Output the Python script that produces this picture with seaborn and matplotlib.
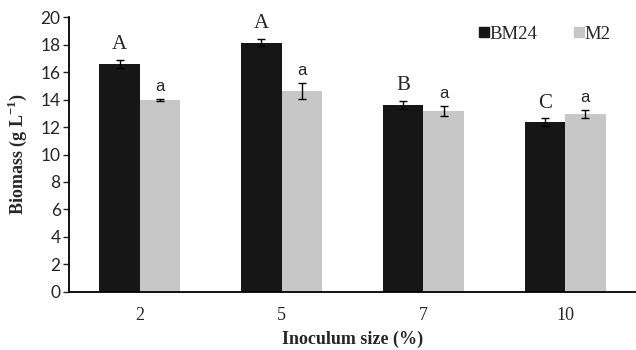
import seaborn as sns
import matplotlib.pyplot as plt
import pandas as pd
from matplotlib.lines import Line2D

# Biomass per inoculum size for the two strains
sizes = ["2", "5", "7", "10"]
strains = ["BM24", "M2"]
bm24 = [16.6, 18.15, 13.6, 12.35]
m2 = [13.95, 14.6, 13.15, 12.95]
bm24_err = [0.3, 0.27, 0.3, 0.3]
m2_err = [0.08, 0.58, 0.37, 0.28]
bm24_letters = ["A", "A", "B", "C"]
m2_letters = ["a", "a", "a", "a"]

df = pd.DataFrame({
    "size": sizes * 2,
    "strain": ["BM24"] * 4 + ["M2"] * 4,
    "biomass": bm24 + m2,
})

black = "#161616"
grey = "#c6c7c6"
serif = ["Liberation Serif", "DejaVu Serif"]

sns.set_style("white")
fig = plt.figure(figsize=(6.36, 3.5), dpi=100)
ax = fig.add_axes([0.1085, 0.166, 0.8915, 0.785])

sns.barplot(data=df, x="size", y="biomass", hue="strain", order=sizes,
            hue_order=strains, palette=[black, grey], width=0.57,
            saturation=1, errorbar=None, legend=False, linewidth=0, ax=ax)

# error bars and significance letters on top of each bar
for bars, vals, errs, letters, fam, fs in [
    (ax.containers[0], bm24, bm24_err, bm24_letters, serif, 15),
    (ax.containers[1], m2, m2_err, m2_letters, ["Liberation Sans"], 12),
]:
    xs = [b.get_x() + b.get_width() / 2 for b in bars]
    ax.errorbar(xs, vals, yerr=errs, fmt="none", ecolor="black",
                elinewidth=1, capsize=3, capthick=1)
    for x, v, e, t in zip(xs, vals, errs, letters):
        ax.annotate(t, (x, v + e), xytext=(0, 4), textcoords="offset points",
                    ha="center", va="bottom", fontsize=fs, family=fam)

ax.set_ylim(0, 20)
ax.set_xlim(-0.5, 3.5)
ax.set_yticks(range(0, 21, 2))
ax.set_xticks([-0.5, 0.5, 1.5, 2.5], minor=True)
ax.tick_params(axis="x", which="major", length=0, pad=11)
ax.tick_params(axis="x", which="minor", length=4, width=1, direction="out")
ax.tick_params(axis="y", length=4, width=1, direction="out", pad=2)
ax.tick_params(left=True, bottom=True)
for lab in ax.get_xticklabels():
    lab.set_family(serif)
    lab.set_fontsize(13)
for lab in ax.get_yticklabels():
    lab.set_family(["Lato", "DejaVu Sans"])
    lab.set_fontsize(12.5)

for s in ["left", "bottom"]:
    ax.spines[s].set_color("black")
    ax.spines[s].set_linewidth(1.3)
sns.despine(ax=ax)

ax.set_xlabel("Inoculum size (%)", family=serif, fontsize=13,
              fontweight="bold", labelpad=5)
ax.set_ylabel("Biomass (g L$^{\\mathregular{-1}}$)", family=serif, fontsize=13,
              fontweight="bold", labelpad=8)

handles = [Line2D([], [], marker="s", linestyle="none", markersize=7,
                  color=c) for c in [black, grey]]
ax.legend(handles, strains, loc="upper right", bbox_to_anchor=(0.985, 1.03),
          ncol=2, frameon=False, handletextpad=-0.3, columnspacing=1.6,
          handlelength=1.2, prop={"family": serif, "size": 13.5})

fig.savefig("out.png", dpi=100)
